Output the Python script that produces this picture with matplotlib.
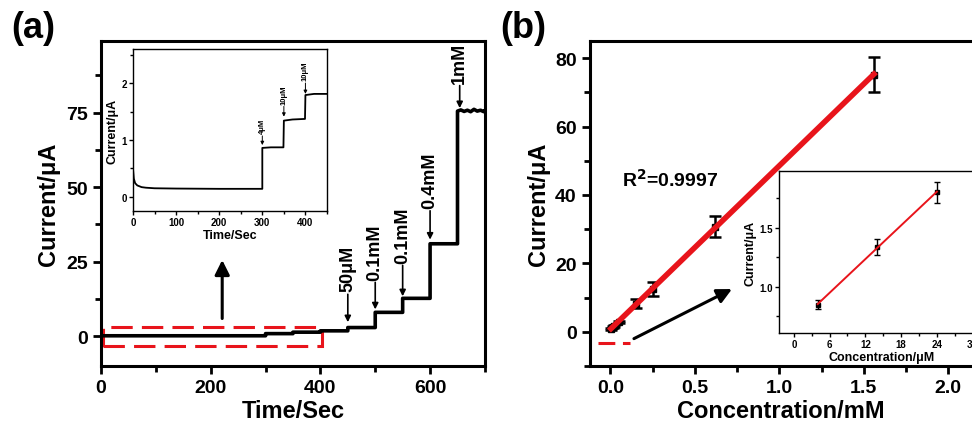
import numpy as np
import matplotlib.pyplot as plt
from matplotlib.patches import Rectangle
from matplotlib.ticker import MultipleLocator

plt.rcParams['font.family'] = ['Liberation Sans', 'DejaVu Sans']
plt.rcParams['font.weight'] = 'bold'
plt.rcParams['axes.labelweight'] = 'bold'

# (a) amperometric trace
t_main = [0, 300, 300, 350, 350, 400, 400, 450, 450, 500, 500, 550, 550, 600, 600, 650, 650,
          656, 662, 668, 674, 680, 686, 692, 698, 700]
i_main = [0.14, 0.14, 0.86, 0.86, 1.35, 1.35, 1.80, 1.80, 2.9, 2.9, 8.0, 8.0, 12.7, 12.7, 31.0, 31.0, 75.5,
          75.9, 75.4, 75.8, 75.3, 76.1, 75.5, 75.8, 75.3, 75.7]
steps_t = [450, 500, 550, 600, 654]
steps_lbl = ['50\u03bcM', '0.1mM', '0.1mM', '0.4mM', '1mM']
steps_tip = [4.7, 9.0, 13.4, 32.4, 76.5]
steps_tail = [15, 19, 24.7, 43, 85]

# (a) inset: first 450 s
t_ins = [0, 2, 5, 10, 20, 30, 50, 100, 200, 300, 300, 320, 349, 350, 370, 399, 400, 420, 450]
i_ins = [0.50, 0.32, 0.24, 0.20, 0.17, 0.16, 0.15, 0.145, 0.14, 0.14, 0.86, 0.87, 0.87, 1.34,
         1.36, 1.37, 1.79, 1.81, 1.81]
ins_t = [300, 350, 400]
ins_lbl = ['4\u03bcM', '10\u03bcM', '10\u03bcM']
ins_tip = [0.91, 1.41, 1.81]
ins_tail = [1.12, 1.64, 2.05]

# (b) calibration
conc = [0.004, 0.014, 0.024, 0.05, 0.15, 0.25, 0.62, 1.56]
cur = [0.85, 1.34, 1.80, 2.9, 8.2, 12.6, 30.7, 75.2]
err = [0.3, 0.3, 0.3, 0.4, 1.3, 2.0, 3.1, 5.2]

# (b) inset
conc_um = [4, 14, 24]
cur_um = [0.85, 1.34, 1.80]
err_um = [0.04, 0.068, 0.09]

fig = plt.figure(figsize=(9.72, 4.27), dpi=100)


def style_main(ax):
    for s in ax.spines.values():
        s.set_linewidth(2.2)
    ax.tick_params(which='both', direction='out', width=2, labelsize=14)
    ax.tick_params(which='major', length=6)
    ax.tick_params(which='minor', length=4)


def style_inset(ax, fs):
    for s in ax.spines.values():
        s.set_linewidth(1.0)
    ax.tick_params(which='both', direction='out', width=1, labelsize=fs, pad=1.5)
    ax.tick_params(which='major', length=3)
    ax.tick_params(which='minor', length=2)


# ---- panel (a)
ax1 = fig.add_axes([0.1039, 0.1405, 0.395, 0.761])
ax1.plot(t_main, i_main, color='black', lw=2.6)
ax1.set_xlim(0, 700)
ax1.set_ylim(-10, 99)
ax1.xaxis.set_major_locator(MultipleLocator(200))
ax1.xaxis.set_minor_locator(MultipleLocator(100))
ax1.yaxis.set_major_locator(MultipleLocator(25))
ax1.yaxis.set_minor_locator(MultipleLocator(12.5))
style_main(ax1)
ax1.set_xlabel('Time/Sec', fontsize=17, labelpad=2)
ax1.set_ylabel('Current/\u03bcA', fontsize=17, labelpad=4)

for t, lbl, tip, tail in zip(steps_t, steps_lbl, steps_tip, steps_tail):
    ax1.annotate(lbl, xy=(t, tip), xytext=(t, tail), rotation=90, ha='center', va='bottom',
                 fontsize=13, fontweight='bold',
                 arrowprops=dict(arrowstyle='-|>', color='black', lw=1.2, mutation_scale=9,
                                 shrinkA=0, shrinkB=0))

ax1.add_patch(Rectangle((3, -3.2), 400, 6.4, fill=False, edgecolor='#e8141b', lw=2.2,
                        linestyle=(0, (7, 3))))
ax1.annotate('', xy=(221, 26.5), xytext=(221, 5),
             arrowprops=dict(arrowstyle='-|>', color='black', lw=2.2, mutation_scale=22))

# inset (a)
ins1 = fig.add_axes([0.1368, 0.5035, 0.1996, 0.3794])
ins1.plot(t_ins, i_ins, color='black', lw=1.3)
ins1.set_xlim(0, 450)
ins1.set_ylim(-0.25, 2.6)
ins1.xaxis.set_major_locator(MultipleLocator(100))
ins1.xaxis.set_minor_locator(MultipleLocator(50))
ins1.yaxis.set_major_locator(MultipleLocator(1))
ins1.yaxis.set_minor_locator(MultipleLocator(0.5))
style_inset(ins1, 7)
ins1.set_xlabel('Time/Sec', fontsize=9, labelpad=1)
ins1.set_ylabel('Current/\u03bcA', fontsize=9, labelpad=2)
for t, lbl, tip, tail in zip(ins_t, ins_lbl, ins_tip, ins_tail):
    ins1.annotate(lbl, xy=(t, tip), xytext=(t, tail), rotation=90, ha='center', va='bottom',
                  fontsize=5.5, fontweight='bold',
                  arrowprops=dict(arrowstyle='-|>', color='black', lw=0.7, mutation_scale=5,
                                  shrinkA=0, shrinkB=0))

# ---- panel (b)
ax2 = fig.add_axes([0.607, 0.1405, 0.393, 0.761])
ax2.errorbar(conc, cur, yerr=err, fmt='s', color='black', ms=4, capsize=4, elinewidth=1.8,
             capthick=1.8, zorder=2)
k, b = np.polyfit(conc, cur, 1)
xf = np.array([conc[0], conc[-1]])
ax2.plot(xf, k * xf + b, color='#e8141b', lw=4, zorder=3)
ax2.set_xlim(-0.12, 2.14)
ax2.set_ylim(-10, 85)
ax2.xaxis.set_major_locator(MultipleLocator(0.5))
ax2.xaxis.set_minor_locator(MultipleLocator(0.25))
ax2.yaxis.set_major_locator(MultipleLocator(20))
ax2.yaxis.set_minor_locator(MultipleLocator(10))
style_main(ax2)
ax2.spines['right'].set_visible(False)
ax2.set_xlabel('Concentration/mM', fontsize=17, labelpad=2)
ax2.set_ylabel('Current/\u03bcA', fontsize=17, labelpad=4)
ax2.text(0.355, 44.6, 'R$^\\mathbf{2}$=0.9997', fontsize=14, fontweight='bold',
         ha='center', va='center')
ax2.plot([-0.075, 0.115], [-3.2, -3.2], color='#e8141b', lw=2.2, linestyle=(0, (5.5, 2.5)))
ax2.annotate('', xy=(0.72, 12.5), xytext=(0.14, -2),
             arrowprops=dict(arrowstyle='-|>', color='black', lw=2.2, mutation_scale=22,
                             shrinkA=0, shrinkB=0))

# inset (b)
ins2 = fig.add_axes([0.8014, 0.2178, 0.2115, 0.3794])
ins2.errorbar(conc_um, cur_um, yerr=err_um, fmt='s', color='black', ms=2.5, capsize=2.5,
              elinewidth=1, capthick=1, zorder=2)
k2, b2 = np.polyfit(conc_um, cur_um, 1)
xf2 = np.array([conc_um[0], conc_um[-1]])
ins2.plot(xf2, k2 * xf2 + b2, color='#e8141b', lw=1.4, zorder=3)
ins2.set_xlim(-2.5, 32)
ins2.set_ylim(0.61, 1.98)
ins2.xaxis.set_major_locator(MultipleLocator(6))
ins2.xaxis.set_minor_locator(MultipleLocator(3))
ins2.yaxis.set_major_locator(MultipleLocator(0.5))
ins2.yaxis.set_minor_locator(MultipleLocator(0.25))
style_inset(ins2, 7)
ins2.set_xlabel('Concentration/\u03bcM', fontsize=9, labelpad=1)
ins2.set_ylabel('Current/\u03bcA', fontsize=9, labelpad=2)

fig.text(0.012, 0.975, '(a)', fontsize=26, fontweight='bold', va='top', ha='left')
fig.text(0.515, 0.975, '(b)', fontsize=26, fontweight='bold', va='top', ha='left')

fig.savefig('out.png', dpi=100)
